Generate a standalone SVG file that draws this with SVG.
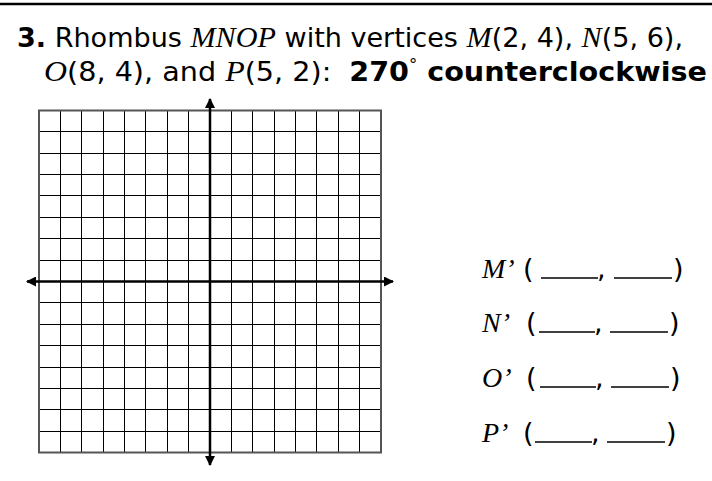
<svg xmlns="http://www.w3.org/2000/svg" width="712" height="481" viewBox="0 0 712 481">
<defs>
<style>
.s{font-family:"DejaVu Sans","Liberation Sans",Arial,sans-serif;font-size:26px;fill:#000}
.b{font-weight:bold}
.i{font-family:"Liberation Serif","Times New Roman",serif;font-style:italic;font-size:29px}
.lbl{font-family:"Liberation Serif","Times New Roman",serif;font-style:italic;font-size:28px;fill:#000}
.p{font-family:"DejaVu Sans","Liberation Sans",Arial,sans-serif;font-size:27px;fill:#000}
.grid{stroke:#000;stroke-width:1;fill:none}
.border{stroke:#555;stroke-width:2;fill:none}
.axis{stroke:#000;stroke-width:2.5;fill:none}
.blank{stroke:#000;stroke-width:1.5}
</style>
<marker id="ah" viewBox="0 0 10 10" refX="9" refY="5" markerWidth="4" markerHeight="4" orient="auto-start-reverse" markerUnits="strokeWidth">
<path d="M0,0 L10,5 L0,10 z" fill="#000"/>
</marker>
</defs>
<rect width="712" height="481" fill="#fff"/>
<line x1="0" y1="4" x2="712" y2="4" stroke="#000" stroke-width="2.5"/>
<g id="title">
<text class="s" x="17" y="47" textLength="666" lengthAdjust="spacingAndGlyphs"><tspan class="b">3.</tspan> Rhombus <tspan class="i">MNOP</tspan> with vertices <tspan class="i">M</tspan>(2, 4), <tspan class="i">N</tspan>(5, 6),</text>
<text class="s" x="44" y="81" textLength="663" lengthAdjust="spacingAndGlyphs"><tspan class="i">O</tspan>(8, 4), and <tspan class="i">P</tspan>(5, 2): <tspan class="b" dx="8">270</tspan><tspan font-size="15" dy="-11">°</tspan><tspan class="b" dy="11"> counterclockwise</tspan></text>
</g>
<g id="grid">
<path class="grid" d="M60.5,110.5V452.5M81.5,110.5V452.5M103.5,110.5V452.5M124.5,110.5V452.5M145.5,110.5V452.5M167.5,110.5V452.5M188.5,110.5V452.5M231.5,110.5V452.5M252.5,110.5V452.5M274.5,110.5V452.5M295.5,110.5V452.5M316.5,110.5V452.5M338.5,110.5V452.5M359.5,110.5V452.5M39,131.5H381M39,153.5H381M39,174.5H381M39,195.5H381M39,217.5H381M39,238.5H381M39,260.5H381M39,302.5H381M39,324.5H381M39,345.5H381M39,367.5H381M39,388.5H381M39,409.5H381M39,431.5H381"/>
<rect class="border" x="39" y="110.5" width="342" height="342"/>
</g>
<g id="axes">
<line class="axis" x1="210" y1="99" x2="210" y2="465" marker-start="url(#ah)" marker-end="url(#ah)"/>
<line class="axis" x1="27" y1="281.5" x2="393" y2="281.5" marker-start="url(#ah)" marker-end="url(#ah)"/>
</g>
<g id="answers">
<g id="m"><text class="lbl" x="482" y="278">M’</text><text class="p" x="523" y="278">(</text><line class="blank" x1="541" y1="278" x2="598" y2="278"/><text class="p" x="597" y="278">,</text><line class="blank" x1="614" y1="278" x2="672" y2="278"/><text class="p" x="673" y="278">)</text></g>
<g id="n"><text class="lbl" x="482" y="332">N’</text><text class="p" x="526" y="332">(</text><line class="blank" x1="539" y1="332" x2="595" y2="332"/><text class="p" x="594" y="332">,</text><line class="blank" x1="610" y1="332" x2="668" y2="332"/><text class="p" x="669" y="332">)</text></g>
<g id="o"><text class="lbl" x="482" y="387">O’</text><text class="p" x="526" y="387">(</text><line class="blank" x1="540" y1="387" x2="596" y2="387"/><text class="p" x="595" y="387">,</text><line class="blank" x1="611" y1="387" x2="669" y2="387"/><text class="p" x="670" y="387">)</text></g>
<g id="pp"><text class="lbl" x="482" y="442">P’</text><text class="p" x="523" y="442">(</text><line class="blank" x1="535" y1="442" x2="592" y2="442"/><text class="p" x="591" y="442">,</text><line class="blank" x1="607" y1="442" x2="665" y2="442"/><text class="p" x="666" y="442">)</text></g>
</g>
</svg>
